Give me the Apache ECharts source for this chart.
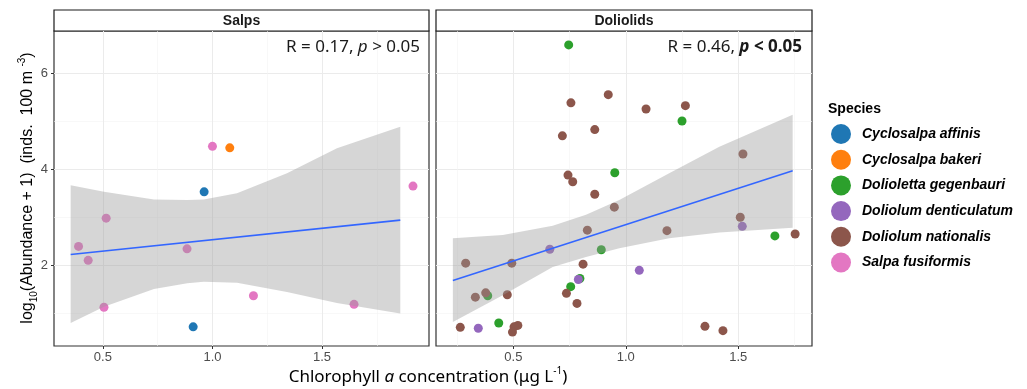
<!DOCTYPE html>
<html>
<head>
<meta charset="utf-8">
<script src="https://cdn.jsdelivr.net/npm/echarts@6/dist/echarts.min.js"></script>
<style>
  html, body { margin: 0; padding: 0; background: #fff; }
  #chart { width: 1027px; height: 389px; }
</style>
</head>
<body>
<div id="chart"></div>
<script>
// species colours (ggplot category10)
const speciesNames = ['Cyclosalpa affinis', 'Cyclosalpa bakeri', 'Dolioletta gegenbauri', 'Doliolum denticulatum', 'Doliolum nationalis', 'Salpa fusiformis']
const speciesColors = ['#1F77B4', '#FF7F0E', '#2CA02C', '#9467BD', '#8C564B', '#E377C2']

// Salps panel: [chl a, log10 abundance]
const affinisPts = [[0.962, 3.53], [0.912, 0.71]]
const bakeriPts = [[1.079, 4.45]]
const fusiformisPts = [[1.0, 4.48], [1.915, 3.65], [0.515, 2.98], [0.389, 2.39], [0.433, 2.10], [0.884, 2.34], [0.505, 1.12], [1.187, 1.36], [1.646, 1.18]]

// Doliolids panel
const gegenbauriPts = [[0.746, 6.60], [1.25, 5.01], [0.951, 3.93], [1.663, 2.61], [0.891, 2.32], [0.796, 1.72], [0.755, 1.55], [0.386, 1.36], [0.435, 0.79]]
const denticulatumPts = [[1.518, 2.81], [0.662, 2.33], [1.060, 1.89], [0.789, 1.70], [0.344, 0.68]]
const nationalisPts = [[0.756, 5.39], [0.922, 5.56], [1.090, 5.26], [1.265, 5.33], [0.718, 4.70], [0.862, 4.83], [1.521, 4.32],
  [0.743, 3.88], [0.764, 3.74], [0.862, 3.48], [0.949, 3.21], [1.509, 3.00], [1.753, 2.65], [1.183, 2.72], [0.829, 2.73],
  [0.288, 2.04], [0.493, 2.04], [0.810, 2.02], [0.736, 1.41], [0.783, 1.20], [0.377, 1.42], [0.331, 1.33], [0.473, 1.38],
  [0.264, 0.70], [0.520, 0.74], [0.503, 0.71], [0.496, 0.60], [1.352, 0.72], [1.432, 0.63]]

// fitted lines and confidence bands
const salpsFitX = [0.353, 1.857]
const salpsFitY = [2.22, 2.94]
const salpsBandX = [0.353, 0.505, 0.733, 0.885, 0.96, 1.112, 1.340, 1.568, 1.857]
const salpsBandLow = [0.79, 1.13, 1.50, 1.62, 1.65, 1.63, 1.44, 1.21, 0.99]
const salpsBandHigh = [3.67, 3.53, 3.37, 3.36, 3.37, 3.50, 3.92, 4.44, 4.89]

const dolioFitX = [0.231, 1.742]
const dolioFitY = [1.68, 3.97]
const dolioBandX = [0.231, 0.453, 0.675, 0.823, 0.971, 1.193, 1.416, 1.742]
const dolioBandLow = [0.81, 1.37, 1.96, 2.17, 2.35, 2.56, 2.68, 2.78]
const dolioBandHigh = [2.56, 2.63, 2.82, 3.05, 3.36, 3.92, 4.47, 5.14]

// axis ranges and ticks
const salpsXRange = [0.277, 1.988]
const dolioXRange = [0.156, 1.828]
const yRange = [0.31, 6.89]
const xTicks = [0.5, 1.0, 1.5]
const xMinor = [0.25, 0.75, 1.25, 1.75]
const yTicks = [2, 4, 6]
const yMinor = [1, 3, 5]

const chart = echarts.init(document.getElementById('chart'))

const gridLeft = { left: 54, top: 31, width: 375, height: 315 }
const gridRight = { left: 436, top: 31, width: 376, height: 315 }

const majorLine = { show: true, lineStyle: { color: '#EBEBEB', width: 1 } }
const minorLine = { show: true, lineStyle: { color: '#F3F3F3', width: 0.6 } }
const tickFont = { color: '#4D4D4D', fontSize: 13, fontFamily: 'Liberation Sans, Arial, sans-serif' }

const mainX = (gridIndex, range) => ({
  type: 'value', gridIndex, min: range[0], max: range[1],
  axisLine: { show: false },
  axisTick: { show: true, length: 3, lineStyle: { color: '#333' }, customValues: xTicks },
  axisLabel: { ...tickFont, margin: 5, customValues: xTicks, formatter: (v) => v.toFixed(1) },
  splitLine: majorLine,
})
const minorX = (gridIndex, range) => ({
  type: 'value', gridIndex, min: range[0], max: range[1], position: 'top',
  axisLine: { show: false }, axisLabel: { show: false },
  axisTick: { show: false, customValues: xMinor },
  splitLine: minorLine,
})
const mainY = (gridIndex, showLabels) => ({
  type: 'value', gridIndex, min: yRange[0], max: yRange[1],
  axisLine: { show: false },
  axisTick: { show: showLabels, length: 3, lineStyle: { color: '#333' }, customValues: yTicks },
  axisLabel: { show: showLabels, ...tickFont, margin: 6, customValues: yTicks },
  splitLine: majorLine,
})
const minorY = (gridIndex) => ({
  type: 'value', gridIndex, min: yRange[0], max: yRange[1], position: 'right',
  axisLine: { show: false }, axisLabel: { show: false },
  axisTick: { show: false, customValues: yMinor },
  splitLine: minorLine,
})

const scatter = (name, pts, axisIdx) => ({
  name, type: 'scatter', xAxisIndex: axisIdx, yAxisIndex: axisIdx,
  data: pts, symbolSize: 9, z: 2,
  itemStyle: { color: speciesColors[speciesNames.indexOf(name)], opacity: 1 },
  silent: true,
})

// ribbon goes over the points, like geom_smooth does
const band = (xs, lo, hi, axisIdx) => ({
  type: 'custom', xAxisIndex: axisIdx, yAxisIndex: axisIdx, silent: true, z: 5,
  data: xs.map((x, i) => [x, lo[i], hi[i]]),
  renderItem: (params, api) => {
    if (params.dataIndex !== 0) return null
    const upper = xs.map((x, i) => api.coord([x, hi[i]]))
    const lower = xs.map((x, i) => api.coord([x, lo[i]])).reverse()
    return {
      type: 'polygon',
      shape: { points: upper.concat(lower) },
      style: { fill: '#999999', opacity: 0.4 },
    }
  },
})

const fitLine = (xs, ys, axisIdx) => ({
  type: 'line', xAxisIndex: axisIdx, yAxisIndex: axisIdx, silent: true, z: 6,
  data: xs.map((x, i) => [x, ys[i]]),
  showSymbol: false,
  lineStyle: { color: '#3366FF', width: 1.6 },
})

const textFont = 'Noto Sans, Open Sans, sans-serif'

const option = {
  backgroundColor: '#fff',
  animation: false,
  grid: [
    { ...gridLeft, show: true, borderColor: '#333', borderWidth: 1.2, backgroundColor: '#fff' },
    { ...gridRight, show: true, borderColor: '#333', borderWidth: 1.2, backgroundColor: '#fff' },
  ],
  xAxis: [mainX(0, salpsXRange), minorX(0, salpsXRange), mainX(1, dolioXRange), minorX(1, dolioXRange)],
  yAxis: [mainY(0, true), minorY(0), mainY(1, false), minorY(1)],
  legend: {
    orient: 'vertical', left: 826, top: 119,
    data: speciesNames.map((n) => ({ name: n, icon: 'circle' })),
    itemWidth: 20, itemHeight: 20, itemGap: 5.7,
    selectedMode: false,
    textStyle: { fontSize: 14, fontWeight: 'bold', fontStyle: 'italic', color: '#000', fontFamily: 'Liberation Sans, Arial, sans-serif', padding: [0, 0, 0, 6] },
  },
  series: [
    scatter('Cyclosalpa affinis', affinisPts, 0),
    scatter('Cyclosalpa bakeri', bakeriPts, 0),
    scatter('Salpa fusiformis', fusiformisPts, 0),
    band(salpsBandX, salpsBandLow, salpsBandHigh, 0),
    fitLine(salpsFitX, salpsFitY, 0),
    scatter('Dolioletta gegenbauri', gegenbauriPts, 2),
    scatter('Doliolum denticulatum', denticulatumPts, 2),
    scatter('Doliolum nationalis', nationalisPts, 2),
    band(dolioBandX, dolioBandLow, dolioBandHigh, 2),
    fitLine(dolioFitX, dolioFitY, 2),
  ],
  graphic: [
    // facet strips
    { type: 'rect', shape: { x: 54, y: 10, width: 375, height: 21 }, style: { fill: '#fff', stroke: '#1a1a1a', lineWidth: 1.2 } },
    { type: 'text', x: 241.5, y: 21, style: { text: 'Salps', align: 'center', verticalAlign: 'middle', font: 'bold 14px Liberation Sans, Arial, sans-serif', fill: '#1a1a1a' } },
    { type: 'rect', shape: { x: 436, y: 10, width: 376, height: 21 }, style: { fill: '#fff', stroke: '#1a1a1a', lineWidth: 1.2 } },
    { type: 'text', x: 624, y: 21, style: { text: 'Doliolids', align: 'center', verticalAlign: 'middle', font: 'bold 14px Liberation Sans, Arial, sans-serif', fill: '#1a1a1a' } },
    // correlation labels
    {
      type: 'text', x: 420, y: 47, z: 10,
      style: {
        text: '{n|R = 0.17, }{i|p}{n| > 0.05}', align: 'right', verticalAlign: 'middle',
        rich: {
          n: { fontSize: 17, fontFamily: textFont, fill: '#1a1a1a' },
          i: { fontSize: 17, fontFamily: textFont, fontStyle: 'italic', fill: '#1a1a1a' },
        },
      },
    },
    {
      type: 'text', x: 802, y: 47, z: 10,
      style: {
        text: '{n|R = 0.46, }{i|p}{b| < 0.05}', align: 'right', verticalAlign: 'middle',
        rich: {
          n: { fontSize: 17, fontFamily: textFont, fill: '#1a1a1a' },
          i: { fontSize: 17, fontFamily: textFont, fontStyle: 'italic', fontWeight: 'bold', fill: '#1a1a1a' },
          b: { fontSize: 17, fontFamily: textFont, fontWeight: 'bold', fill: '#1a1a1a' },
        },
      },
    },
    // axis titles
    {
      type: 'text', x: 28, y: 188, rotation: Math.PI / 2,
      style: {
        text: '{n|log}{sub|10}{n|(Abundance + 1)  (inds.  100 m }{sup|-3}{n|)}',
        align: 'center', verticalAlign: 'middle',
        rich: {
          n: { fontSize: 16, lineHeight: 22, fontFamily: 'Liberation Sans, Arial, sans-serif', fill: '#000' },
          sub: { fontSize: 10, lineHeight: 12, verticalAlign: 'bottom', fontFamily: 'Liberation Sans, Arial, sans-serif', fill: '#000' },
          sup: { fontSize: 10, lineHeight: 12, verticalAlign: 'top', fontFamily: 'Liberation Sans, Arial, sans-serif', fill: '#000' },
        },
      },
    },
    {
      type: 'text', x: 428, y: 377,
      style: {
        text: '{n|Chlorophyll }{i|a}{n| concentration (μg L}{sup|-1}{n|)}',
        align: 'center', verticalAlign: 'middle',
        rich: {
          n: { fontSize: 17, lineHeight: 22, fontFamily: textFont, fill: '#000' },
          i: { fontSize: 17, lineHeight: 22, fontFamily: textFont, fontStyle: 'italic', fill: '#000' },
          sup: { fontSize: 10, lineHeight: 12, verticalAlign: 'top', fontFamily: textFont, fill: '#000' },
        },
      },
    },
    // legend title
    { type: 'text', x: 828, y: 109, style: { text: 'Species', align: 'left', verticalAlign: 'middle', font: 'bold 14px Liberation Sans, Arial, sans-serif', fill: '#000' } },
  ],
}

chart.setOption(option)
window.addEventListener('resize', () => chart.resize())
</script>
</body>
</html>
